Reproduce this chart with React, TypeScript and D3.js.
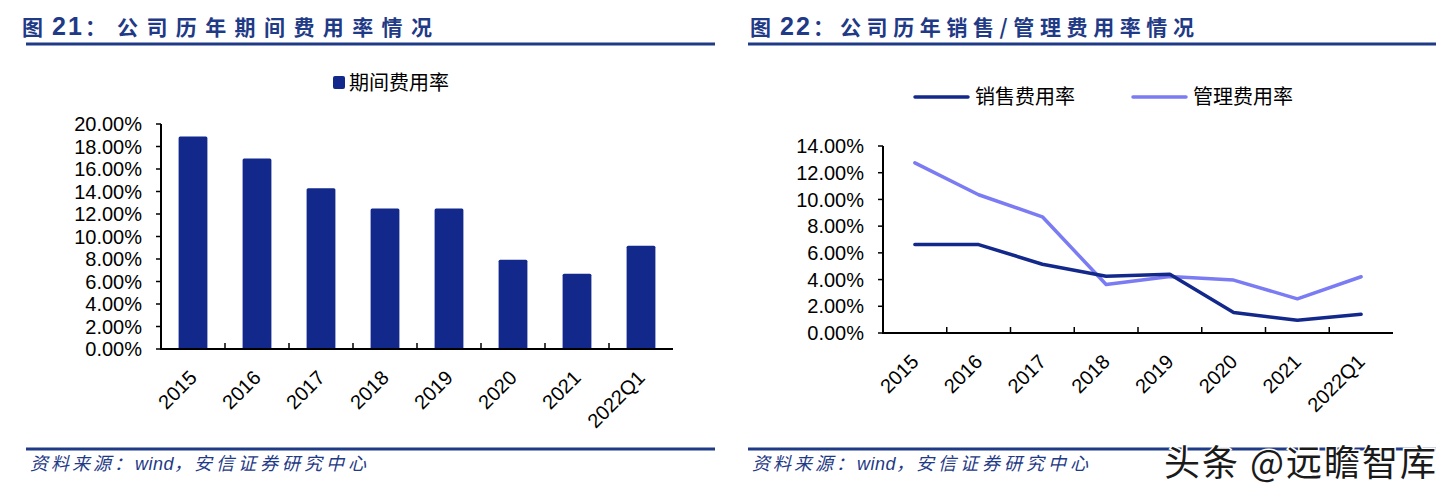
import React, { useEffect, useRef } from 'react';
import * as d3 from 'd3';

const years = ['2015', '2016', '2017', '2018', '2019', '2020', '2021', '2022Q1'];
const periodRate = [0.189, 0.1694, 0.143, 0.125, 0.125, 0.0794, 0.067, 0.0918];
const salesRate = [0.0662, 0.0662, 0.0515, 0.0425, 0.044, 0.0154, 0.0095, 0.0141];
const adminRate = [0.1274, 0.1035, 0.087, 0.0363, 0.0423, 0.0396, 0.0256, 0.0421];
const leftTicks = [0, 0.02, 0.04, 0.06, 0.08, 0.1, 0.12, 0.14, 0.16, 0.18, 0.2];
const rightTicks = [0, 0.02, 0.04, 0.06, 0.08, 0.1, 0.12, 0.14];

const BLUE = '#13288b';
const LIGHT = '#7b7bf3';
const TITLE = '#1f3a86';
const NUM_FONT = '"Liberation Sans", Arial, "Noto Sans CJK SC", sans-serif';
const CJK_FONT = '"Noto Sans CJK SC", "Liberation Sans", sans-serif';

const App: React.FC = () => {
  const svgRef = useRef<SVGSVGElement>(null);

  useEffect(() => {
    if (!svgRef.current) return;
    const svg = d3.select(svgRef.current);
    svg.selectAll('*').remove();

    const fmt = (d: number) => `${(d * 100).toFixed(2)}%`;

    // titles + rules + source lines
    const titles = [
      { x: 22, num: '21', body: '公司历年期间费用率情况', bodyX: 117, ls: 8.4, x1: 26, x2: 715 },
      { x: 750, num: '22', body: '公司历年销售/管理费用率情况', bodyX: 840, ls: 5.6, x1: 748, x2: 1436 }
    ];
    titles.forEach(t => {
      const tt = svg.append('text')
        .attr('y', 35)
        .attr('font-family', CJK_FONT)
        .attr('font-weight', 'bold')
        .attr('font-size', 21)
        .attr('fill', TITLE);
      tt.append('tspan').attr('x', t.x).text('图');
      tt.append('tspan').attr('x', t.x + 30).attr('font-family', NUM_FONT).attr('font-size', 25)
        .attr('letter-spacing', 2).text(t.num);
      tt.append('tspan').attr('x', t.x + 63).text('：');
      tt.append('tspan').attr('x', t.bodyX).attr('letter-spacing', t.ls).text(t.body);

      svg.append('line')
        .attr('x1', t.x1).attr('x2', t.x2)
        .attr('y1', 44).attr('y2', 44)
        .attr('stroke', TITLE).attr('stroke-width', 3);
      svg.append('line')
        .attr('x1', t.x1).attr('x2', t.x2)
        .attr('y1', 449).attr('y2', 449)
        .attr('stroke', TITLE).attr('stroke-width', 3);

      // source line: each piece flows after the previous one
      const src = svg.append('text')
        .attr('x', t.x1 + 4)
        .attr('y', 470)
        .attr('font-family', CJK_FONT)
        .attr('font-style', 'italic')
        .attr('font-size', 18)
        .attr('fill', TITLE);
      src.append('tspan').attr('letter-spacing', 3).text('资料来源：');
      src.append('tspan').attr('font-family', NUM_FONT).attr('letter-spacing', 0.5).text('wind');
      src.append('tspan').attr('letter-spacing', 2).text('，');
      src.append('tspan').attr('letter-spacing', 4).text('安信证券研究中心');
    });

    // ---- left: bar chart
    const x1 = d3.scaleBand().domain(years).range([161, 673]).padding(0);
    const y1 = d3.scaleLinear().domain([0, 0.2]).range([349, 124]);
    const g1 = svg.append('g');
    const bw = x1.step() * 0.45;

    g1.selectAll('rect.bar')
      .data(periodRate)
      .join('rect')
      .attr('class', 'bar')
      .attr('x', (_, i) => (x1(years[i]) || 0) + (x1.step() - bw) / 2)
      .attr('y', d => y1(d))
      .attr('width', bw)
      .attr('height', d => y1(0) - y1(d))
      .attr('rx', 1.5)
      .attr('fill', BLUE);

    const drawAxes = (g: d3.Selection<SVGGElement, unknown, null, undefined>,
      x: d3.ScaleBand<string>, y: d3.ScaleLinear<number, number>, ticks: number[]) => {
      const x0 = x.range()[0];
      const xe = x.range()[1];
      const yb = y(0);
      g.append('line').attr('x1', x0).attr('x2', x0).attr('y1', y(ticks[ticks.length - 1])).attr('y2', yb)
        .attr('stroke', '#000').attr('stroke-width', 2);
      g.append('line').attr('x1', x0 - 1).attr('x2', xe).attr('y1', yb).attr('y2', yb)
        .attr('stroke', '#000').attr('stroke-width', 2);
      ticks.forEach(t => {
        g.append('line').attr('x1', x0 - 5).attr('x2', x0).attr('y1', y(t)).attr('y2', y(t))
          .attr('stroke', '#000').attr('stroke-width', 1.5);
        g.append('text')
          .attr('x', x0 - 19).attr('y', y(t))
          .attr('dy', '0.36em')
          .attr('text-anchor', 'end')
          .attr('font-family', NUM_FONT)
          .attr('font-size', 20)
          .attr('fill', '#000')
          .text(fmt(t));
      });
      years.forEach((c, i) => {
        if (i > 0) {
          const tx = x(c) || 0;
          g.append('line').attr('x1', tx).attr('x2', tx).attr('y1', yb).attr('y2', yb - 6)
            .attr('stroke', '#000').attr('stroke-width', 1.5);
        }
        const cx = (x(c) || 0) + x.step() / 2;
        g.append('text')
          .attr('transform', `translate(${cx + 5},${yb + 30}) rotate(-45)`)
          .attr('text-anchor', 'end')
          .attr('font-family', NUM_FONT)
          .attr('font-size', 20)
          .attr('fill', '#000')
          .text(c);
      });
    };
    drawAxes(g1, x1, y1, leftTicks);

    // left legend
    g1.append('rect').attr('x', 333).attr('y', 76).attr('width', 12).attr('height', 13).attr('rx', 2).attr('fill', BLUE);
    g1.append('text').attr('x', 349).attr('y', 83).attr('dy', '0.36em')
      .attr('font-family', CJK_FONT).attr('font-size', 20).attr('fill', '#000').text('期间费用率');

    // ---- right: line chart
    const x2 = d3.scaleBand().domain(years).range([883, 1393]).padding(0);
    const y2 = d3.scaleLinear().domain([0, 0.14]).range([333, 146]);
    const g2 = svg.append('g');
    drawAxes(g2, x2, y2, rightTicks);

    const line = d3.line<number>()
      .x((_, i) => (x2(years[i]) || 0) + x2.step() / 2)
      .y(d => y2(d));

    [{ data: adminRate, color: LIGHT }, { data: salesRate, color: BLUE }].forEach(s => {
      g2.append('path')
        .attr('d', line(s.data) || '')
        .attr('fill', 'none')
        .attr('stroke', s.color)
        .attr('stroke-width', 3.5)
        .attr('stroke-linejoin', 'round')
        .attr('stroke-linecap', 'round');
    });

    const legend = [
      { name: '销售费用率', color: BLUE, x: 915 },
      { name: '管理费用率', color: LIGHT, x: 1133 }
    ];
    legend.forEach(l => {
      g2.append('line').attr('x1', l.x).attr('x2', l.x + 53).attr('y1', 97).attr('y2', 97)
        .attr('stroke', l.color).attr('stroke-width', 3.5).attr('stroke-linecap', 'round');
      g2.append('text').attr('x', l.x + 60).attr('y', 97).attr('dy', '0.36em')
        .attr('font-family', CJK_FONT).attr('font-size', 20).attr('fill', '#000').text(l.name);
    });

    // watermark
    svg.append('text')
      .attr('x', 1164).attr('y', 476)
      .attr('font-family', CJK_FONT)
      .attr('font-size', 36)
      .attr('letter-spacing', 2)
      .attr('fill', '#1a1a1a')
      .attr('stroke', '#fff')
      .attr('stroke-width', 3)
      .attr('paint-order', 'stroke')
      .text('头条 @远瞻智库');
  }, []);

  return (
    <div style={{ position: 'absolute', left: 0, top: 0, width: 1448, height: 491, background: '#fff' }}>
      <svg ref={svgRef} width={1448} height={491} viewBox="0 0 1448 491" />
    </div>
  );
};

export default App;
